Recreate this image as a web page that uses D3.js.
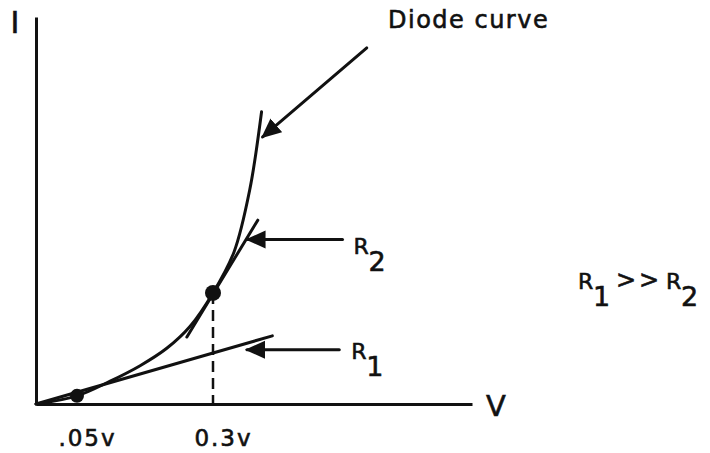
<!DOCTYPE html>
<html lang="en">
<head>
<meta charset="UTF-8">
<title>Diode curve</title>
<script src="https://d3js.org/d3.v7.min.js"></script>
<style>
  body { margin: 0; background: #fff; }
  svg text { font-family: "DejaVu Sans", sans-serif; fill: #111; stroke: #111; stroke-width: 0.6px; }
  .axis path { stroke: #111; stroke-width: 3px; }
  .ink { fill: none; stroke: #111; stroke-width: 3px; stroke-linecap: round; }
</style>
</head>
<body>
<div id="chart"></div>
<script>
// schematic diode curve: voltage (V) against current (arbitrary units)
const diodeV = [0, 0.05, 0.111, 0.166, 0.215, 0.258, 0.3, 0.339, 0.368, 0.39];
const diodeI = [0, 2.1, 5.9, 9.9, 14.4, 20.1, 28.7, 39.3, 55.3, 75.5];

// operating points
const pointV = [0.05, 0.3];
const pointI = [2.1, 28.7];

// tangent lines (resistance lines)
const r1V = [0, 0.41];
const r1I = [0, 17.6];
const r2V = [0.252, 0.383];
const r2I = [17.3, 47.5];

// pointer arrows: [tailV, tailI, tipV, tipI]
const curveArrow = [0.585, 92, 0.392, 69];
const r2Arrow = [0.54, 42.5, 0.364, 42.5];
const r1Arrow = [0.534, 14, 0.363, 14];

const tickValues = [0.05, 0.3];
const tickLabels = [".05v", "0.3v"];

const width = 710, height = 453;

const svg = d3.select("#chart").append("svg")
    .attr("width", width)
    .attr("height", height);

// the voltage axis is not to scale in the drawing, hence a piecewise scale
const x = d3.scaleLinear()
    .domain([0, 0.05, 0.3, 0.78])
    .range([36, 77, 213, 472]);

const y = d3.scaleLinear()
    .domain([0, 100])
    .range([404, 17]);

svg.append("defs").append("marker")
    .attr("id", "head")
    .attr("markerUnits", "userSpaceOnUse")
    .attr("viewBox", "0 0 20 20")
    .attr("refX", 18).attr("refY", 10)
    .attr("markerWidth", 20).attr("markerHeight", 20)
    .attr("orient", "auto")
    .append("path")
    .attr("d", "M0,1 L20,10 L0,19 Z")
    .attr("fill", "#111");

// axes
svg.append("g")
    .attr("class", "axis")
    .attr("transform", `translate(0,${y(0)})`)
    .call(d3.axisBottom(x).tickValues(tickValues).tickSize(0).tickPadding(26)
        .tickFormat((d, i) => tickLabels[i]))
    .call(g => g.selectAll("text")
        .attr("font-size", 23)
        .attr("dx", 10)
        .attr("letter-spacing", 2)
        .attr("font-family", "DejaVu Sans"));

svg.append("g")
    .attr("class", "axis")
    .attr("transform", `translate(${x(0)},0)`)
    .call(d3.axisLeft(y).tickValues([]).tickSizeOuter(0));

svg.append("text").attr("x", 15).attr("y", 33)
    .attr("text-anchor", "middle").attr("font-size", 30).text("I");
svg.append("text").attr("x", 486).attr("y", 416)
    .attr("font-size", 29).text("V");

// diode curve
const line = d3.line()
    .x(d => x(d[0]))
    .y(d => y(d[1]))
    .curve(d3.curveCatmullRom.alpha(0.5));

svg.append("path")
    .attr("class", "ink")
    .attr("d", line(d3.zip(diodeV, diodeI)));

// tangents
const straight = d3.line().x(d => x(d[0])).y(d => y(d[1]));
svg.append("path").attr("class", "ink").attr("d", straight(d3.zip(r1V, r1I)));
svg.append("path").attr("class", "ink").attr("d", straight(d3.zip(r2V, r2I)));

// dashed drop line at 0.3v
svg.append("line")
    .attr("x1", x(pointV[1])).attr("x2", x(pointV[1]))
    .attr("y1", y(pointI[1])).attr("y2", y(0))
    .attr("stroke", "#111").attr("stroke-width", 2.5)
    .attr("stroke-dasharray", "11,6");

// operating points
svg.selectAll("circle.pt")
    .data(d3.zip(pointV, pointI))
    .join("circle")
    .attr("class", "pt")
    .attr("cx", d => x(d[0]))
    .attr("cy", d => y(d[1]))
    .attr("r", (d, i) => i === 0 ? 7 : 8)
    .attr("fill", "#111");

// pointer arrows
[curveArrow, r2Arrow, r1Arrow].forEach(a => {
    svg.append("line")
        .attr("class", "ink")
        .attr("x1", x(a[0])).attr("y1", y(a[1]))
        .attr("x2", x(a[2])).attr("y2", y(a[3]))
        .attr("marker-end", "url(#head)");
});

// labels
svg.append("text")
    .attr("x", 388).attr("y", 28)
    .attr("font-size", 24).attr("letter-spacing", 1.5)
    .text("Diode curve");

function rLabel(px, py, sub) {
    svg.append("text").attr("x", px).attr("y", py).attr("font-size", 22).text("R");
    svg.append("text").attr("x", px + 15).attr("y", py + 17).attr("font-size", 27).text(sub);
}
rLabel(x(r2Arrow[0]) + 11, y(r2Arrow[1]) + 14, "2");
rLabel(x(r1Arrow[0]) + 12, y(r1Arrow[1]) + 9, "1");

// R1 >> R2
rLabel(578, 289, "1");
svg.append("text").attr("x", 616).attr("y", 288).attr("font-size", 24)
    .attr("letter-spacing", 3).text(">>");
rLabel(666, 289, "2");
</script>
</body>
</html>
